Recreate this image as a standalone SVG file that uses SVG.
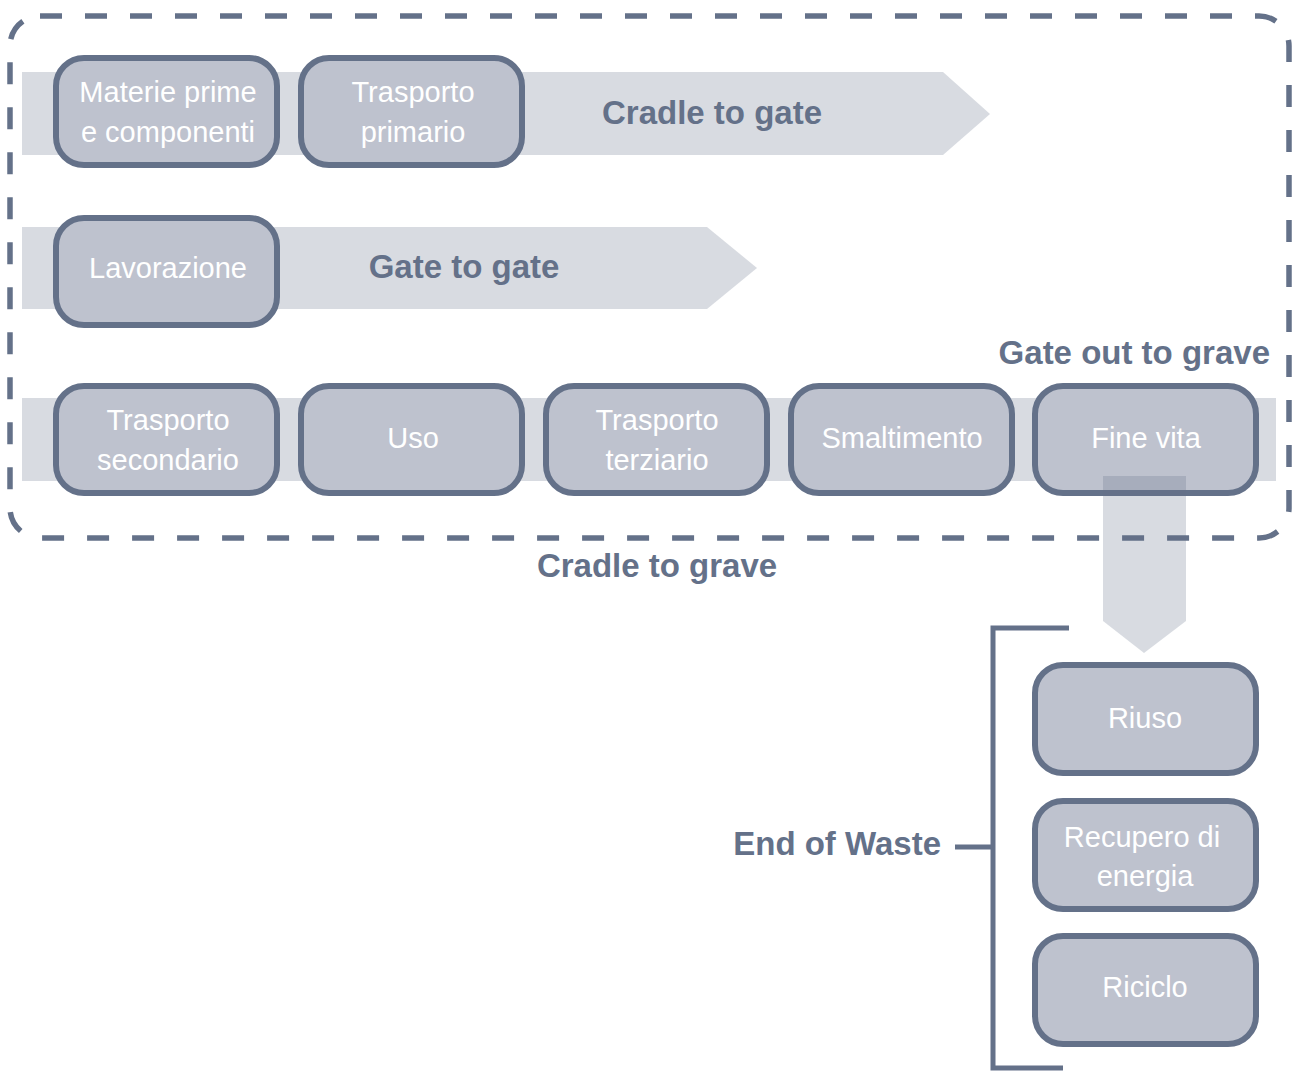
<svg xmlns="http://www.w3.org/2000/svg" width="1298" height="1071" viewBox="0 0 1298 1071">
<style>
.band{fill:#647189;fill-opacity:0.25}
.box{fill:#bec2ce;stroke:#647189;stroke-width:6}
.bt{font-family:"Liberation Sans",Arial,sans-serif;font-size:29px;fill:#ffffff;text-anchor:middle}
.lb{font-family:"Liberation Sans",Arial,sans-serif;font-size:33px;font-weight:bold;fill:#647189}
.ln{fill:none;stroke:#647189;stroke-width:5}
</style>
<rect width="1298" height="1071" fill="#ffffff"/>
<g id="bands">
<polygon class="band" points="22,72 943,72 990,114 943,155 22,155"/>
<polygon class="band" points="22,227 707,227 757,268 707,309 22,309"/>
<rect class="band" x="22" y="398" width="1254" height="83"/>
</g>
<rect id="boundary" x="10" y="16" width="1279" height="522" rx="30" fill="none" stroke="#647189" stroke-width="5.5" stroke-dasharray="22 23"/>
<g id="materie"><rect class="box" x="56" y="58" width="221" height="107" rx="28"/><text class="bt" x="168" y="102">Materie prime</text><text class="bt" x="168" y="142">e componenti</text></g>
<g id="trasporto-primario"><rect class="box" x="301" y="58" width="221" height="107" rx="28"/><text class="bt" x="413" y="102">Trasporto</text><text class="bt" x="413" y="142">primario</text></g>
<g id="lavorazione"><rect class="box" x="56" y="218" width="221" height="107" rx="28"/><text class="bt" x="168" y="278">Lavorazione</text></g>
<g id="trasporto-secondario"><rect class="box" x="56" y="386" width="221" height="107" rx="28"/><text class="bt" x="168" y="430">Trasporto</text><text class="bt" x="168" y="470">secondario</text></g>
<g id="uso"><rect class="box" x="301" y="386" width="221" height="107" rx="28"/><text class="bt" x="413" y="448">Uso</text></g>
<g id="trasporto-terziario"><rect class="box" x="546" y="386" width="221" height="107" rx="28"/><text class="bt" x="657" y="430">Trasporto</text><text class="bt" x="657" y="470">terziario</text></g>
<g id="smaltimento"><rect class="box" x="791" y="386" width="221" height="107" rx="28"/><text class="bt" x="902" y="448">Smaltimento</text></g>
<g id="fine-vita"><rect class="box" x="1035" y="386" width="221" height="107" rx="28"/><text class="bt" x="1146" y="448">Fine vita</text></g>
<g id="connectors">
<polygon class="band" points="1103,476 1186,476 1186,621 1144,653 1103,621"/>
<polyline class="ln" points="1069,628 993,628 993,1068 1063,1068"/>
<line class="ln" x1="955" y1="847" x2="993" y2="847"/>
</g>
<g id="riuso"><rect class="box" x="1035" y="665" width="221" height="108" rx="28"/><text class="bt" x="1145" y="728">Riuso</text></g>
<g id="recupero"><rect class="box" x="1035" y="801" width="221" height="108" rx="28"/><text class="bt" x="1142" y="847">Recupero di</text><text class="bt" x="1145" y="886">energia</text></g>
<g id="riciclo"><rect class="box" x="1035" y="936" width="221" height="108" rx="28"/><text class="bt" x="1145" y="997">Riciclo</text></g>
<g id="labels">
<text class="lb" x="712" y="124" text-anchor="middle">Cradle to gate</text>
<text class="lb" x="464" y="278" text-anchor="middle">Gate to gate</text>
<text class="lb" x="1270" y="364" text-anchor="end">Gate out to grave</text>
<text class="lb" x="657" y="577" text-anchor="middle">Cradle to grave</text>
<text class="lb" x="941" y="855" text-anchor="end">End of Waste</text>
</g>
</svg>
